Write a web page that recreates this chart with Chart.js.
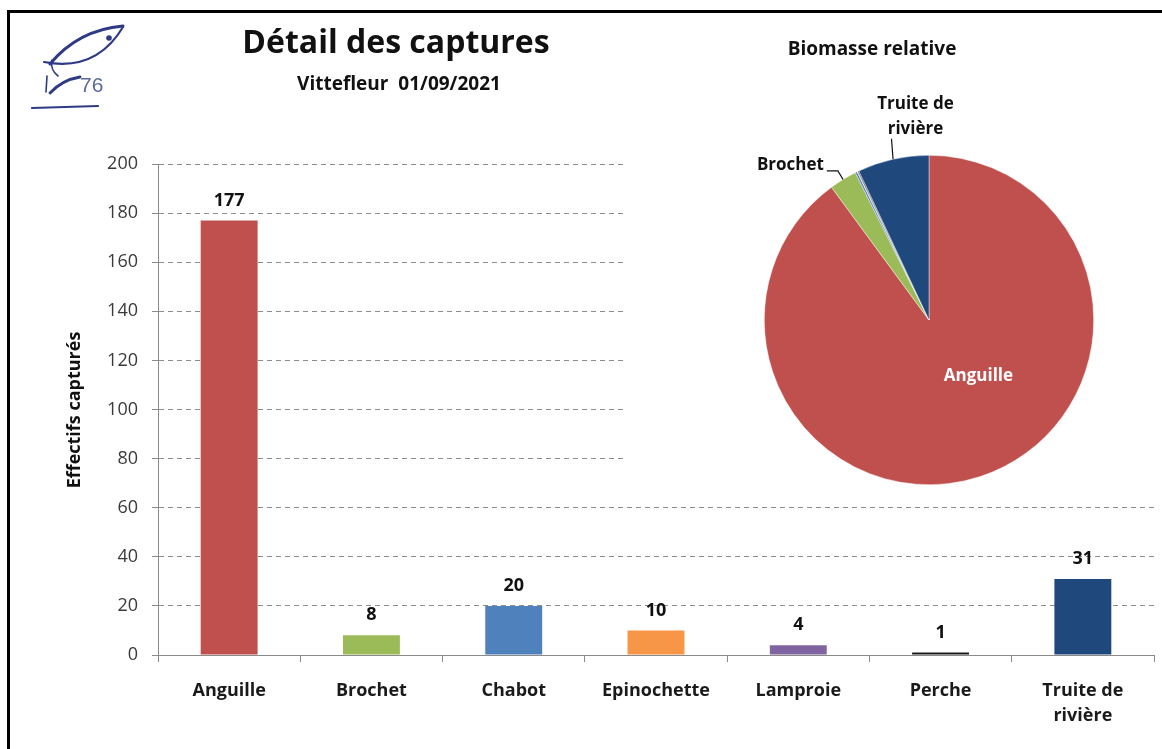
<!DOCTYPE html>
<html><head><meta charset="utf-8">
<script src="https://cdn.jsdelivr.net/npm/chart.js@4"></script>
<style>
html,body{margin:0;padding:0;background:#fff;}
#wrap{position:relative;width:1162px;height:749px;overflow:hidden;background:#fff;}
#bar{position:absolute;left:0;top:0;}
#pie{position:absolute;left:625px;top:20px;background:#fff;}
</style></head><body>
<div id="wrap"><canvas id="bar" width="1162" height="749"></canvas><canvas id="pie" width="535" height="475"></canvas></div>
<script>
// ---- data ----
const categories = ['Anguille','Brochet','Chabot','Epinochette','Lamproie','Perche',['Truite de','rivière']];
const counts = [177, 8, 20, 10, 4, 1, 31];
const biomass = [89.9, 2.7, 0.2, 0.03, 0.05, 0.1, 7.0];
const colors = ['#C0504D','#9BBB59','#4F81BD','#F79646','#8064A2','#1A1A1A','#1F497D'];
const yTickMin = 0, yTickMax = 200, yTickStep = 20;
const mainTitle = 'Détail des captures';
const subTitle = 'Vittefleur  01/09/2021';
const pieTitle = 'Biomasse relative';
const yTitle = 'Effectifs capturés';
const pieOutsideLabels = {1: ['Brochet'], 6: ['Truite de','rivière']};
const pieInsideLabel = {0: 'Anguille'};

const FONT = '"Open Sans", Lato, sans-serif';

// ---- decorations plugin for bar chart ----
const decoPlugin = {
  id: 'deco',
  afterDraw(chart) {
    const ctx = chart.ctx;
    ctx.save();
    // frame (left & top)
    ctx.strokeStyle = '#000'; ctx.lineWidth = 3;
    ctx.beginPath(); ctx.moveTo(8.5, 749); ctx.lineTo(8.5, 11.5); ctx.lineTo(1162, 11.5); ctx.stroke();
    // titles
    ctx.fillStyle = '#111'; ctx.textAlign = 'center'; ctx.textBaseline = 'middle';
    ctx.font = 'bold 32px ' + FONT; ctx.fillText(mainTitle, 396, 44);
    ctx.font = 'bold 19px ' + FONT; ctx.fillText(subTitle, 399, 85);
    // y axis title
    ctx.save(); ctx.translate(75, 410); ctx.rotate(-Math.PI/2);
    ctx.font = 'bold 18px ' + FONT; ctx.fillText(yTitle, 0, 0); ctx.restore();
    // logo
    ctx.strokeStyle = '#2E3A86'; ctx.fillStyle = '#2E3A86'; ctx.lineCap = 'round';
    ctx.lineWidth = 3;
    ctx.beginPath(); ctx.moveTo(50, 64); ctx.quadraticCurveTo(78, 30, 123, 26); ctx.stroke();
    ctx.lineWidth = 2.2;
    ctx.beginPath(); ctx.moveTo(44, 62); ctx.quadraticCurveTo(96, 72, 123, 27); ctx.stroke();
    ctx.lineWidth = 1.6;
    ctx.beginPath(); ctx.moveTo(52, 60); ctx.quadraticCurveTo(50, 70, 58, 76); ctx.stroke();
    ctx.beginPath(); ctx.arc(109, 38, 2.8, 0, Math.PI*2); ctx.fill();
    ctx.lineWidth = 1.6;
    ctx.beginPath(); ctx.moveTo(47, 76); ctx.lineTo(46, 92); ctx.stroke();
    ctx.lineWidth = 2.8;
    ctx.beginPath(); ctx.moveTo(50, 93); ctx.quadraticCurveTo(62, 80, 80, 77); ctx.stroke();
    ctx.lineWidth = 2.2;
    ctx.beginPath(); ctx.moveTo(32, 108); ctx.lineTo(98, 106); ctx.stroke();
    ctx.fillStyle = '#5A6A9C'; ctx.textAlign = 'left'; ctx.textBaseline = 'alphabetic';
    ctx.font = '21px "Liberation Sans", Arial, sans-serif'; ctx.fillText('76', 80, 92);
    ctx.restore();
  },
  afterDatasetsDraw(chart) {
    const ctx = chart.ctx;
    const meta = chart.getDatasetMeta(0);
    ctx.save();
    ctx.fillStyle = '#111'; ctx.textAlign = 'center'; ctx.textBaseline = 'middle';
    ctx.font = 'bold 18px ' + FONT;
    meta.data.forEach((bar, i) => {
      ctx.fillText(String(chart.data.datasets[0].data[i]), bar.x, bar.y - 20);
    });
    ctx.restore();
  }
};

new Chart(document.getElementById('bar'), {
  type: 'bar',
  data: { labels: categories, datasets: [{ data: counts, backgroundColor: colors, borderWidth: 0, categoryPercentage: 0.4, barPercentage: 1.0 }] },
  options: {
    responsive: false, animation: false, devicePixelRatio: 1,
    layout: { padding: { left: 0, right: 8, top: 164, bottom: 0 } },
    plugins: { legend: { display: false }, tooltip: { enabled: false }, title: { display: false } },
    scales: {
      x: {
        grid: { display: true, drawOnChartArea: false, drawTicks: true, tickLength: 7, color: '#8A8A8A', offset: true, tickBorderDash: [] },
        border: { color: '#8A8A8A', width: 1 },
        ticks: { font: { family: FONT, weight: 'bold', size: 18, lineHeight: 1.39 }, color: '#1a1a1a', padding: 16, maxRotation: 0, autoSkip: false },
        afterFit(s) { s.height = 94; }
      },
      y: {
        min: yTickMin, max: yTickMax,
        ticks: { stepSize: yTickStep, font: { family: FONT, size: 18 }, color: '#3a3a3a', padding: 14 },
        grid: { color: '#8C8C8C', tickLength: 6, tickColor: '#8A8A8A', tickBorderDash: [] },
        border: { color: '#8A8A8A', width: 1, dash: [5, 4] },
        afterFit(s) { s.width = 158; }
      }
    }
  },
  plugins: [decoPlugin]
});

// ---- pie ----
const pieLabelPlugin = {
  id: 'pieLabels',
  afterDatasetsDraw(chart) {
    const ctx = chart.ctx;
    const arcs = chart.getDatasetMeta(0).data;
    ctx.save();
    // title
    ctx.fillStyle = '#111'; ctx.textAlign = 'center'; ctx.textBaseline = 'middle';
    ctx.font = 'bold 19px ' + FONT;
    ctx.fillText(pieTitle, 872 - 625, 50 - 20);
    ctx.font = 'bold 17px ' + FONT;
    Object.keys(pieInsideLabel).forEach(k => {
      const a = arcs[k]; const r = a.outerRadius;
      ctx.fillStyle = '#fff';
      ctx.fillText(pieInsideLabel[k], a.x + 0.30 * r, a.y + 0.34 * r);
    });
    ctx.strokeStyle = '#111'; ctx.lineWidth = 1.2; ctx.fillStyle = '#111';
    Object.keys(pieOutsideLabels).forEach(k => {
      const a = arcs[k]; const r = a.outerRadius;
      const m = (a.startAngle + a.endAngle) / 2;
      const p0 = { x: a.x + Math.cos(m) * r, y: a.y + Math.sin(m) * r };
      const lines = pieOutsideLabels[k];
      if (lines.length === 1) {
        const p1 = { x: a.x + Math.cos(m) * (r + 10), y: a.y + Math.sin(m) * (r + 10) };
        const p2 = { x: p1.x - 11, y: p1.y };
        ctx.beginPath(); ctx.moveTo(p0.x, p0.y); ctx.lineTo(p1.x, p1.y); ctx.lineTo(p2.x, p2.y); ctx.stroke();
        ctx.textAlign = 'right';
        ctx.fillText(lines[0], p2.x - 3, p2.y - 6);
      } else {
        const p1 = { x: a.x + Math.cos(m) * (r + 21) + 3, y: a.y + Math.sin(m) * (r + 21) };
        ctx.beginPath(); ctx.moveTo(p0.x, p0.y); ctx.lineTo(p1.x, p1.y); ctx.stroke();
        ctx.textAlign = 'center';
        lines.forEach((t, i) => ctx.fillText(t, p1.x + 24, p1.y - 35 + i * 25));
      }
    });
    ctx.restore();
  }
};

new Chart(document.getElementById('pie'), {
  type: 'pie',
  data: { labels: categories.map(c => Array.isArray(c) ? c.join(' ') : c), datasets: [{ data: biomass, backgroundColor: colors, borderColor: 'rgba(255,255,255,0.7)', borderWidth: 0.6, hoverOffset: 0, offset: 0 }] },
  options: {
    responsive: false, animation: false, devicePixelRatio: 1,
    layout: { padding: { left: 139, right: 66, top: 135, bottom: 10 } },
    plugins: { legend: { display: false }, tooltip: { enabled: false } }
  },
  plugins: [pieLabelPlugin]
});
</script>
</body></html>
